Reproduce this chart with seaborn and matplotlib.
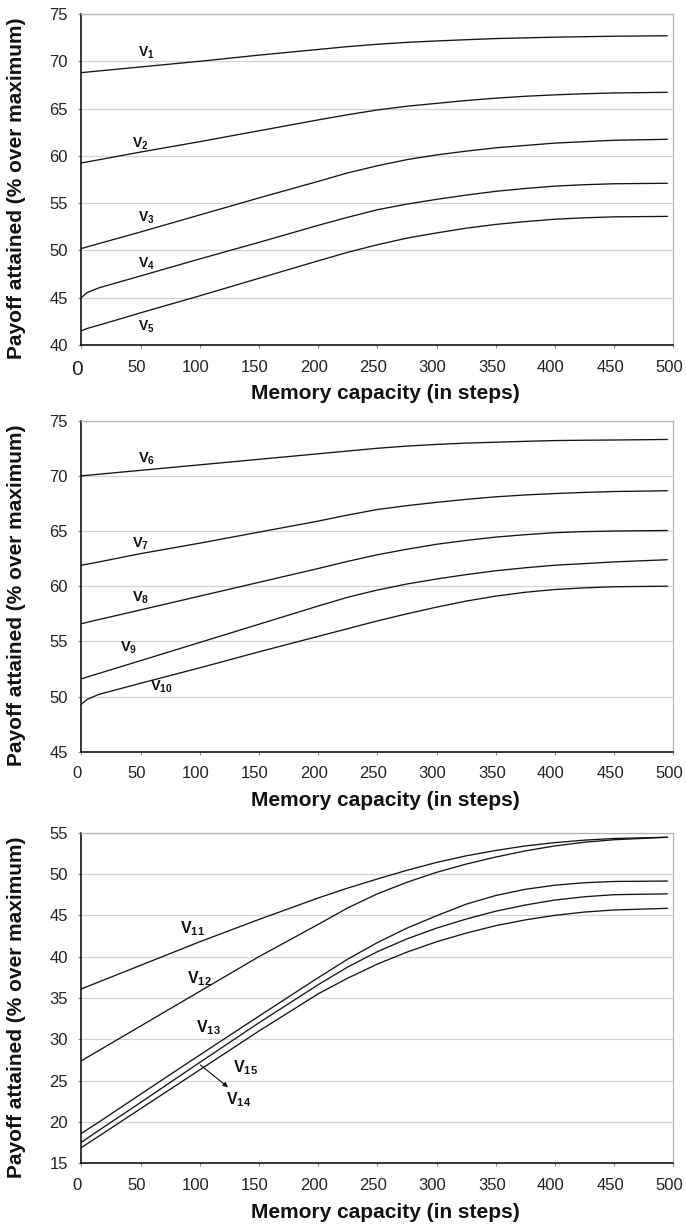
import numpy as np
import pandas as pd
import seaborn as sns
import matplotlib
matplotlib.use("Agg")
import matplotlib.pyplot as plt
from matplotlib.transforms import ScaledTranslation

sns.set_theme(style="white")
plt.rcParams["font.family"] = ["Liberation Sans", "DejaVu Sans"]
plt.rcParams["mathtext.fontset"] = "custom"
plt.rcParams["mathtext.rm"] = "Liberation Sans"
plt.rcParams["mathtext.bf"] = "Liberation Sans:bold"

# Memory capacity (steps) at which payoffs are reported
steps = [0, 5, 15, 50, 100, 150, 200, 225, 250, 275, 300, 325, 350, 375, 400, 425, 450, 495]

# Panel 1: payoff attained (% over maximum)
v1 = [68.8, 68.86, 68.98, 69.4, 70.0, 70.65, 71.25, 71.55, 71.8, 72.0, 72.15, 72.28, 72.4, 72.48, 72.55, 72.6, 72.65, 72.7]
v2 = [59.25, 59.36, 59.59, 60.4, 61.5, 62.65, 63.8, 64.35, 64.85, 65.25, 65.55, 65.85, 66.1, 66.3, 66.45, 66.57, 66.65, 66.72]
v3 = [50.2, 50.38, 50.73, 51.95, 53.75, 55.55, 57.3, 58.2, 58.95, 59.6, 60.1, 60.5, 60.85, 61.1, 61.35, 61.5, 61.65, 61.75]
v4 = [45.0, 45.55, 46.05, 47.3, 49.1, 50.85, 52.65, 53.5, 54.3, 54.9, 55.4, 55.85, 56.25, 56.55, 56.8, 56.95, 57.05, 57.1]
v5 = [41.5, 41.75, 42.1, 43.4, 45.2, 47.05, 48.9, 49.8, 50.6, 51.3, 51.85, 52.35, 52.75, 53.05, 53.3, 53.45, 53.55, 53.6]

# Panel 2
v6 = [70.0, 70.05, 70.15, 70.5, 71.0, 71.5, 72.0, 72.25, 72.5, 72.7, 72.85, 72.97, 73.05, 73.13, 73.2, 73.23, 73.25, 73.3]
v7 = [61.9, 62.0, 62.2, 62.95, 63.9, 64.9, 65.9, 66.45, 66.95, 67.3, 67.6, 67.87, 68.1, 68.27, 68.4, 68.5, 68.58, 68.65]
v8 = [56.6, 56.73, 56.98, 57.85, 59.1, 60.35, 61.6, 62.25, 62.85, 63.35, 63.8, 64.15, 64.45, 64.67, 64.85, 64.95, 65.0, 65.05]
v9 = [51.6, 51.77, 52.1, 53.25, 54.9, 56.55, 58.2, 59.0, 59.65, 60.2, 60.65, 61.05, 61.4, 61.67, 61.9, 62.05, 62.2, 62.4]
v10 = [49.3, 49.75, 50.2, 51.2, 52.6, 54.05, 55.45, 56.15, 56.85, 57.5, 58.1, 58.65, 59.1, 59.45, 59.7, 59.85, 59.95, 60.0]

# Panel 3
v11 = [36.1, 36.38, 36.95, 38.95, 41.8, 44.5, 47.1, 48.3, 49.4, 50.45, 51.4, 52.2, 52.85, 53.4, 53.8, 54.1, 54.3, 54.45]
v12 = [27.4, 27.82, 28.66, 31.6, 35.8, 40.0, 43.9, 45.9, 47.6, 49.0, 50.2, 51.2, 52.05, 52.8, 53.4, 53.85, 54.15, 54.45]
v13 = [18.6, 19.08, 20.0, 23.35, 28.1, 32.8, 37.45, 39.7, 41.7, 43.45, 44.95, 46.35, 47.4, 48.15, 48.65, 48.95, 49.1, 49.15]
v14 = [17.55, 18.03, 19.0, 22.35, 27.2, 32.0, 36.6, 38.75, 40.6, 42.15, 43.45, 44.55, 45.5, 46.25, 46.85, 47.25, 47.5, 47.6]
v15 = [16.9, 17.37, 18.3, 21.6, 26.3, 31.0, 35.5, 37.4, 39.1, 40.55, 41.8, 42.85, 43.75, 44.45, 45.0, 45.4, 45.65, 45.85]

panels = [
    {"series": {"V1": v1, "V2": v2, "V3": v3, "V4": v4, "V5": v5},
     "ylim": (40, 75),
     "labels": {"V1": (55, 70.85), "V2": (50, 61.3), "V3": (55, 53.4),
                "V4": (55, 48.6), "V5": (55, 41.9)},
     "label_size": 10},
    {"series": {"V6": v6, "V7": v7, "V8": v8, "V9": v9, "V10": v10},
     "ylim": (45, 75),
     "labels": {"V6": (55, 71.6), "V7": (50, 63.85), "V8": (50, 59.0),
                "V9": (40, 54.45), "V10": (68, 50.9)},
     "label_size": 10.5},
    {"series": {"V11": v11, "V12": v12, "V13": v13, "V14": v14, "V15": v15},
     "ylim": (15, 55),
     "labels": {"V11": (94, 43.4), "V12": (100, 37.4), "V13": (107, 31.45),
                "V15": (139, 26.6), "V14": (133, 22.65)},
     "label_size": 11.5},
]

fig = plt.figure(figsize=(6.86, 12.27), dpi=100)
W, H = 686, 1227
boxes = [(81.3, 14.0, 673.3, 345.0), (81.3, 420.7, 673.3, 751.7), (81.3, 832.7, 673.3, 1163.3)]

for i, (panel, (l, t, r, b)) in enumerate(zip(panels, boxes)):
    ax = fig.add_axes([l / W, 1 - b / H, (r - l) / W, (b - t) / H])
    rows = []
    for name, vals in panel["series"].items():
        for s, v in zip(steps, vals):
            rows.append({"steps": s, "payoff": v, "series": name})
    df = pd.DataFrame(rows)
    sns.lineplot(data=df, x="steps", y="payoff", units="series", estimator=None,
                 color="#151515", linewidth=0.95, ax=ax, legend=False)

    lo, hi = panel["ylim"]
    ax.set_xlim(0, 500)
    ax.set_ylim(lo, hi)
    ax.set_xticks(np.arange(0, 501, 50))
    ax.set_yticks(np.arange(lo, hi + 1, 5))
    ax.yaxis.grid(True, color="#d4d4d4", linewidth=0.9)
    ax.xaxis.grid(False)
    ax.set_axisbelow(True)
    for side in ("top", "right"):
        ax.spines[side].set_color("#b4b4b4")
        ax.spines[side].set_linewidth(0.9)
    for side in ("left", "bottom"):
        ax.spines[side].set_color("black")
        ax.spines[side].set_linewidth(1.1)
    ax.tick_params(axis="both", which="major", direction="out", length=2.5,
                   width=0.8, color="#888888", labelsize=12, labelcolor="#222222",
                   left=True, bottom=True)
    ax.tick_params(axis="y", pad=7)
    ax.tick_params(axis="x", pad=8)
    shift = ScaledTranslation(-4 / 100, 0, fig.dpi_scale_trans)
    for lab in ax.get_xticklabels():
        lab.set_transform(lab.get_transform() + shift)
    if i == 0:
        ax.get_xticklabels()[0].set_fontsize(15)

    ax.set_xlabel("Memory capacity (in steps)", fontsize=15, fontweight="bold", color="#111111")
    ax.set_ylabel("Payoff attained (% over maximum)", fontsize=15, fontweight="bold", color="#111111")
    ax.xaxis.label.set_va("center")
    ax.yaxis.label.set_va("center")
    ax.xaxis.set_label_coords(0.513, -0.148)
    ax.yaxis.set_label_coords(-0.11, 0.473)

    fs = panel["label_size"]
    for name, (lx, ly) in panel["labels"].items():
        num = name[1:]
        ax.text(lx, ly, r"$\mathbf{V}_{\mathbf{%s}}$" % num, fontsize=fs,
                ha="center", va="center", color="#111111")

    if i == 2:
        ax.annotate("", xy=(124, 24.2), xytext=(100.5, 26.9),
                    arrowprops=dict(arrowstyle="-|>", color="#111111", lw=0.8,
                                    mutation_scale=7, shrinkA=0, shrinkB=0))

fig.savefig("out.png", dpi=100)
